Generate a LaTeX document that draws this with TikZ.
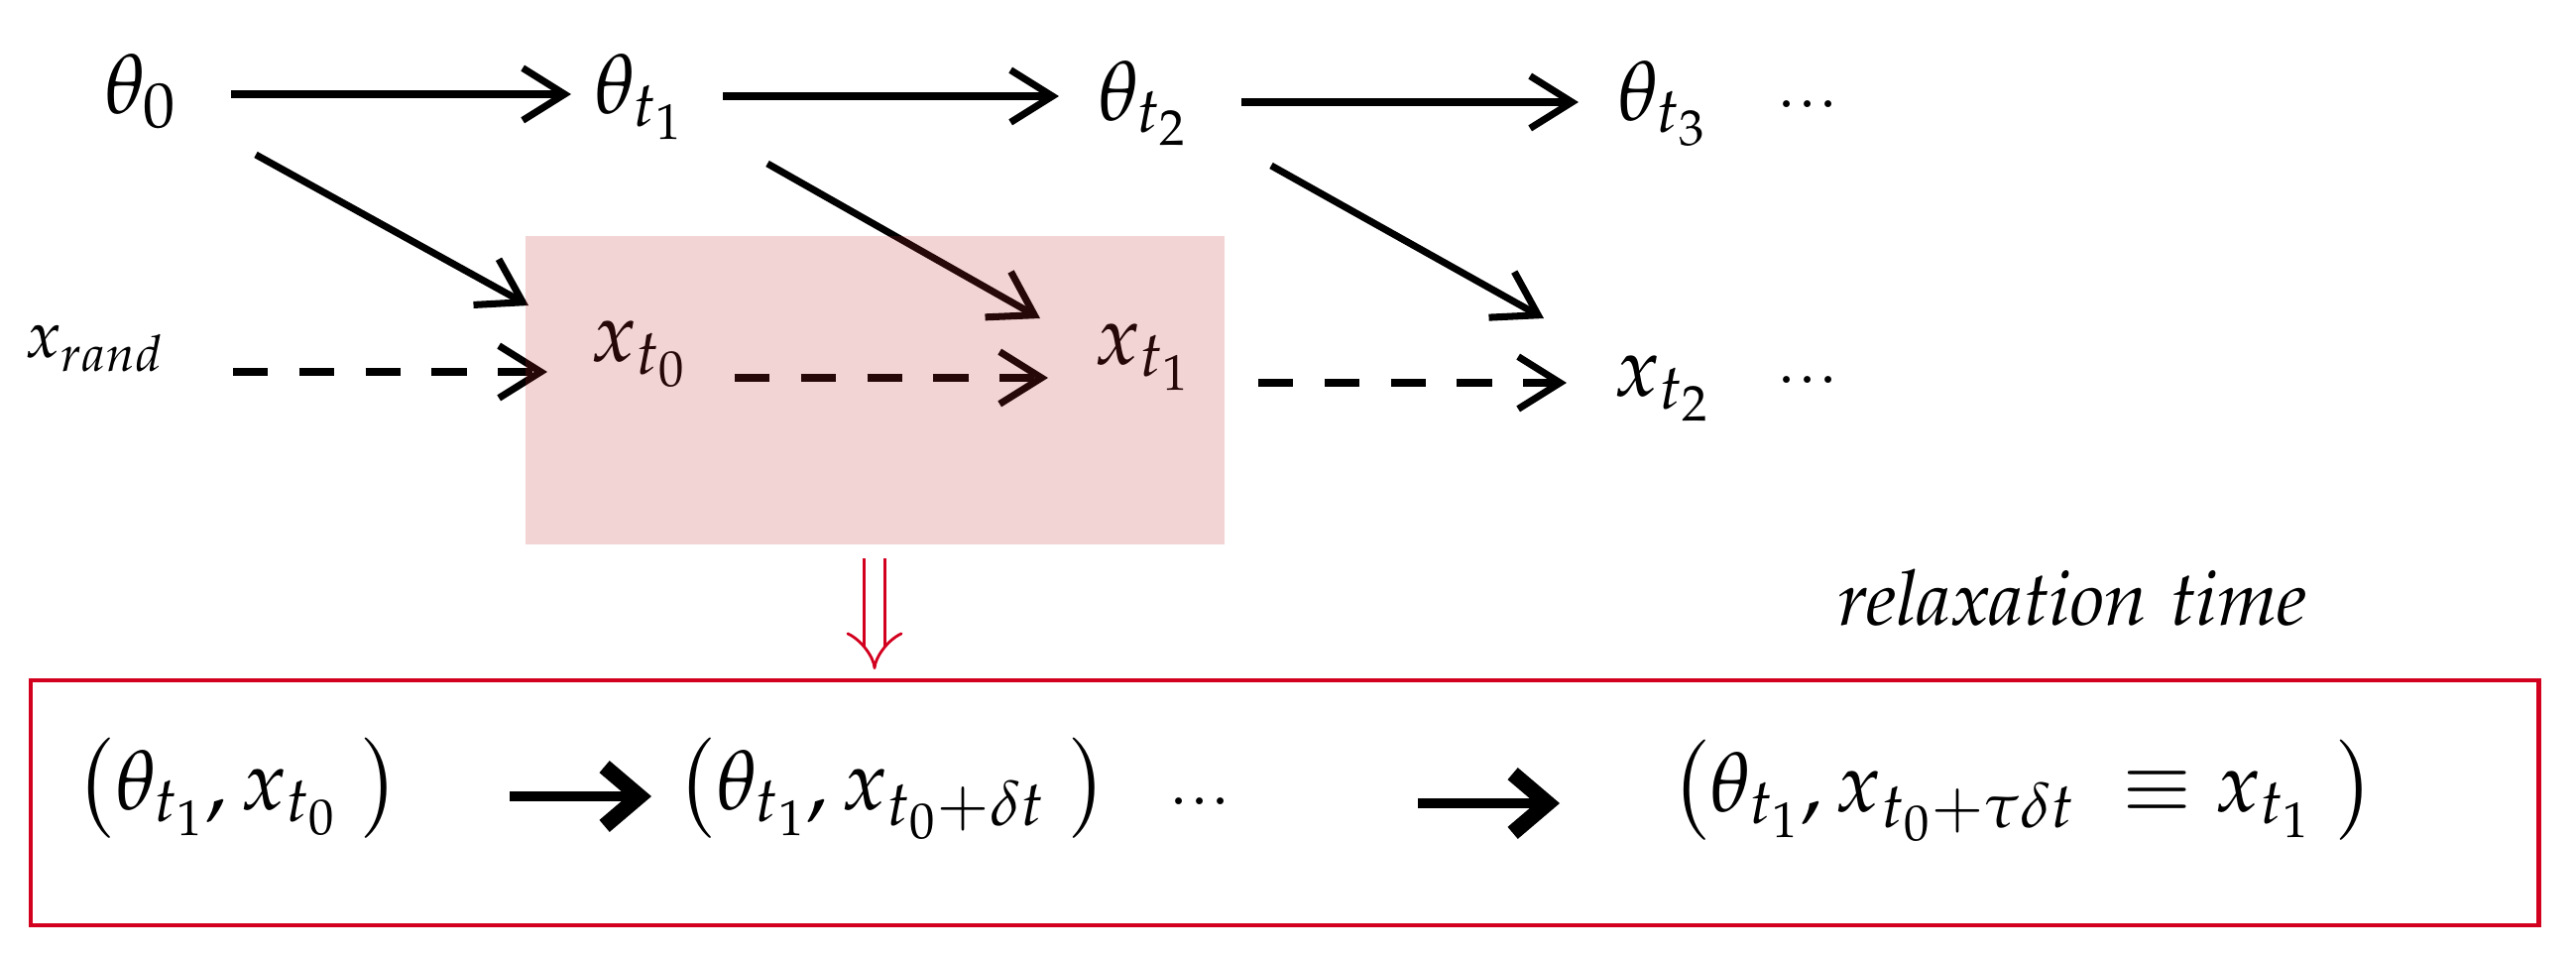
\documentclass[tikz,border=0pt]{standalone}
\usepackage{mathpazo}
\usetikzlibrary{arrows.meta}
\definecolor{myred}{RGB}{210,0,30}
\definecolor{pinkc}{RGB}{190,40,40}
\begin{document}
\begin{tikzpicture}[x=0.01cm,y=-0.01cm,
  lbl/.style={font=\fontsize{24}{28}\selectfont},
  arr/.style={line width=2pt,-{Straight Barb[length=12pt,width=15pt,line width=2pt]}},
  darr/.style={arr,dash pattern=on 10pt off 9pt},
  barr/.style={line width=3pt,-{Straight Barb[length=10pt,width=17pt,line width=4.5pt]}}]
\useasboundingbox (0,0) rectangle (2598,964);
% top row
\node[lbl] (th0) at (142,92) {$\theta_0$};
\node[lbl] (th1) at (645,98) {$\theta_{t_1}$};
\node[lbl] (th2) at (1153,104) {$\theta_{t_2}$};
\node[lbl] (th3) at (1677,104) {$\theta_{t_3}$};
\node[lbl] (d1) at (1823,105) {...};
\node[font=\fontsize{19}{22}\selectfont] (xr) at (95,352) {$x_{rand}$};
\node[lbl] (x0) at (645,357) {$x_{t_0}$};
\node[lbl] (x1) at (1153,360) {$x_{t_1}$};
\node[lbl] (x2) at (1677,392) {$x_{t_2}$};
\node[lbl] (d2) at (1823,383) {...};
\coordinate (a0s) at (233,95); \coordinate (a0e) at (576,95);
\coordinate (a1s) at (729,97); \coordinate (a1e) at (1068,97);
\coordinate (a2s) at (1252,103); \coordinate (a2e) at (1592,103);
\draw[arr] (a0s) -- (a0e);
\draw[arr] (a1s) -- (a1e);
\draw[arr] (a2s) -- (a2e);
\coordinate (g0s) at (258,156); \coordinate (g0e) at (533,308);
\coordinate (g1s) at (774,165); \coordinate (g1e) at (1049,321);
\coordinate (g2s) at (1282,167); \coordinate (g2e) at (1557,321);
\draw[arr] (g0s) -- (g0e);
\draw[arr] (g1s) -- (g1e);
\draw[arr] (g2s) -- (g2e);
\coordinate (h0s) at (235,375); \coordinate (h0e) at (552,375);
\coordinate (h1s) at (741,381); \coordinate (h1e) at (1057,381);
\coordinate (h2s) at (1269,386); \coordinate (h2e) at (1580,386);
\draw[darr] (h0s) -- (h0e);
\draw[darr] (h1s) -- (h1e);
\draw[darr] (h2s) -- (h2e);
% pink box
\fill[pinkc,opacity=0.2] (530,238) rectangle (1235,549);
% red double arrow
\coordinate (rs) at (882,563); \coordinate (re) at (882,675);
\draw[myred,line width=0.8pt,double distance=5pt,-{Implies[length=9pt]}] (rs) -- (re);
\node[font=\fontsize{22}{26}\selectfont] (rt) at (2090,603) {$\mathit{relaxation\ time}$};
% bottom box
\draw[myred,line width=1.4pt] (31,686) rectangle (2560,933);
\node[lbl] (b1) at (240,795) {$\bigl(\theta_{t_1},x_{t_0}\;\bigr)$};
\node[lbl] (b2) at (900,795) {$\bigl(\theta_{t_1},x_{t_0+\delta t}\;\bigr)$};
\node[lbl] (d3) at (1210,808) {...};
\node[lbl] (b3) at (2040,797) {$\bigl(\theta_{t_1},x_{t_0+\tau\delta t}\;\equiv x_{t_1}\;\bigr)$};
\coordinate (c1s) at (514,803); \coordinate (c1e) at (657,803);
\coordinate (c2s) at (1430,810); \coordinate (c2e) at (1573,810);
\draw[barr] (c1s) -- (c1e);
\draw[barr] (c2s) -- (c2e);
\end{tikzpicture}
\end{document}
